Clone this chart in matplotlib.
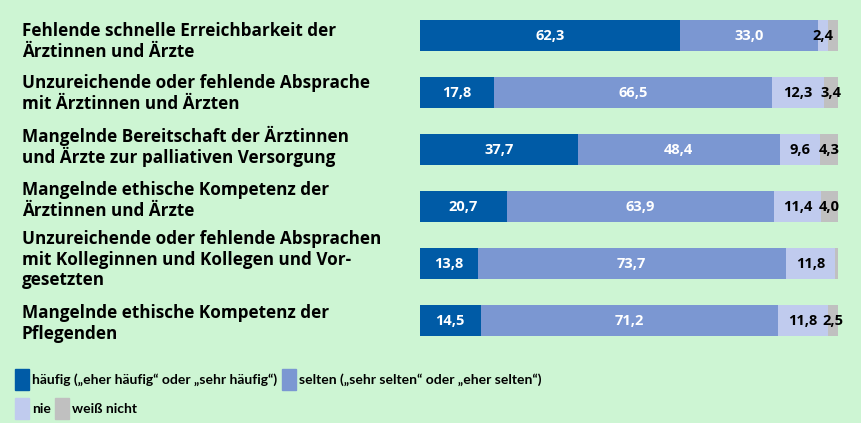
import matplotlib.pyplot as plt
import matplotlib.transforms as mtransforms
from matplotlib.patches import Rectangle

plt.rcParams['font.family'] = ['Open Sans', 'DejaVu Sans']

categories = [
    'Fehlende schnelle Erreichbarkeit der\nÄrztinnen und Ärzte',
    'Unzureichende oder fehlende Absprache\nmit Ärztinnen und Ärzten',
    'Mangelnde Bereitschaft der Ärztinnen\nund Ärzte zur palliativen Versorgung',
    'Mangelnde ethische Kompetenz der\nÄrztinnen und Ärzte',
    'Unzureichende oder fehlende Absprachen\nmit Kolleginnen und Kollegen und Vor-\ngesetzten',
    'Mangelnde ethische Kompetenz der\nPflegenden',
]
haeufig = [62.3, 17.8, 37.7, 20.7, 13.8, 14.5]
selten = [33.0, 66.5, 48.4, 63.9, 73.7, 71.2]
nie = [2.4, 12.3, 9.6, 11.4, 11.8, 11.8]
weiss_nicht = [2.3, 3.4, 4.3, 4.0, 0.7, 2.5]
# which small segments carry a printed value
label_nie = [True, True, True, True, True, True]
label_weiss = [False, True, True, True, False, True]

series_names = ['häufig („eher häufig“ oder „sehr häufig“)',
                'selten („sehr selten“ oder „eher selten“)',
                'nie', 'weiß nicht']
colors = ['#005ba6', '#7b97d2', '#c0cbee', '#c0c0c0']
bg = '#cdf5d3'

fig = plt.figure(figsize=(8.62, 4.23), dpi=100, facecolor=bg)
W, H = 862, 423
ax = fig.add_axes([420 / W, (H - 336) / H, 418 / W, 316 / H])
ax.set_facecolor(bg)

y = list(range(len(categories)))
bh = 31 / 57
lefts = [0] * len(y)
for vals, col, idx in zip([haeufig, selten, nie, weiss_nicht], colors, range(4)):
    ax.barh(y, vals, left=lefts, height=bh, color=col, linewidth=0)
    for i, (l, v) in enumerate(zip(lefts, vals)):
        txt = ('%.1f' % v).replace('.', ',')
        if idx < 2:
            ax.text(l + v / 2, i, txt, ha='center', va='center',
                    color='white', fontsize=10.5, fontweight='bold')
        elif (idx == 2 and label_nie[i]) or (idx == 3 and label_weiss[i]):
            ax.text(l + v / 2, i, txt, ha='center', va='center',
                    color='black', fontsize=10.5, fontweight='bold', clip_on=False)
    lefts = [a + b for a, b in zip(lefts, vals)]

ax.set_xlim(0, 100)
ax.set_ylim(5 + bh / 2, -bh / 2)
ax.axis('off')

# category labels, one text per line on a baseline grid (20.5 px per line)
trans = mtransforms.blended_transform_factory(fig.transFigure, ax.transData)
px = 1 / 57  # data units per pixel
shift = [11, 6, 3, -1, 1, 8]  # small vertical nudges per label, px
for i, c in enumerate(categories):
    lines = c.split('\n')
    n = len(lines)
    for k, line in enumerate(lines):
        yy = i + ((k - (n - 1) / 2) * 20.5 + shift[i]) * px
        ax.text(22 / W, yy, line, transform=trans, ha='left', va='baseline',
                fontsize=12.3, fontweight='bold', clip_on=False)

# legend
leg_font = ['Lato', 'DejaVu Sans']
leg = [(15, 369, 0), (282, 369, 1), (15, 398, 2), (55, 398, 3)]
for x0, y0, k in leg:
    fig.patches.append(Rectangle((x0 / W, (H - y0 - 21) / H), 14 / W, 21 / H,
                                 transform=fig.transFigure, color=colors[k]))
    fig.text((x0 + 17) / W, (H - y0 - 10.5) / H, series_names[k], ha='left', va='center',
             fontsize=10, fontweight='bold', family=leg_font)

fig.savefig('out.png', dpi=100, facecolor=bg)
